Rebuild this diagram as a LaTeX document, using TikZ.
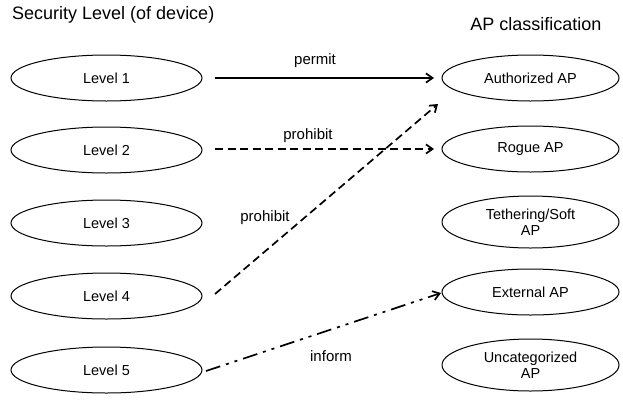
\documentclass[tikz,border=0pt]{standalone}
\usepackage{fontspec}
\setmainfont{Liberation Sans}
\usetikzlibrary{shapes.geometric,arrows.meta}
\begin{document}
\begin{tikzpicture}[x=1pt,y=-1pt,
  lvl/.style={draw,ellipse,line width=1pt,minimum width=191pt,minimum height=46pt,inner sep=0pt,font=\fontsize{14.5}{16.5}\selectfont},
  apn/.style={draw,ellipse,line width=1pt,minimum width=177pt,minimum height=46pt,inner sep=0pt,align=center,font=\fontsize{14.5}{16.5}\selectfont},
  conn/.style={line width=1.7pt,-{Straight Barb[angle=70:8pt]}},
  lbl/.style={font=\fontsize{15}{17}\selectfont},
  ttl/.style={inner sep=0pt,font=\fontsize{18}{20}\selectfont}]
\useasboundingbox (0,0) rectangle (623,402);
\node[ttl,anchor=west] (t1) at (12,15) {Security Level (of device)};
\node[ttl] (t2) at (536,24) {AP classification};
\node[lvl] (l1) at (106.5,78) {Level 1};
\node[lvl] (l2) at (106.5,150) {Level 2};
\node[lvl] (l3) at (106.5,223) {Level 3};
\node[lvl] (l4) at (106.5,296) {Level 4};
\node[lvl] (l5) at (106.5,370) {Level 5};
\node[apn] (a1) at (530.5,78) {Authorized AP};
\node[apn] (a2) at (530.5,149) {Rogue AP};
\node[apn,minimum height=52pt] (a3) at (530.5,222) {Tethering/Soft\\AP};
\node[apn] (a4) at (530.5,292) {External AP};
\node[apn,minimum height=52pt] (a5) at (530.5,365) {Uncategorized\\AP};
\coordinate (p1s) at (215,78); \coordinate (p1e) at (434,78);
\coordinate (p2s) at (215,149); \coordinate (p2e) at (434,149);
\coordinate (p3s) at (215,294); \coordinate (p3e) at (438,104);
\coordinate (p4s) at (206,371); \coordinate (p4e) at (441,293);
\draw[conn] (p1s) -- (p1e);
\draw[conn,dash pattern=on 8pt off 4.5pt] (p2s) -- (p2e);
\draw[conn,dash pattern=on 8pt off 4.5pt] (p3s) -- (p3e);
\draw[conn,dash pattern=on 15pt off 6pt on 3pt off 6pt on 3pt off 6pt] (p4s) -- (p4e);
\node[lbl] (n1) at (315,61) {permit};
\node[lbl] (n2) at (308,136) {prohibit};
\node[lbl] (n3) at (265,218) {prohibit};
\node[lbl] (n4) at (331,356) {inform};
\end{tikzpicture}
\end{document}
